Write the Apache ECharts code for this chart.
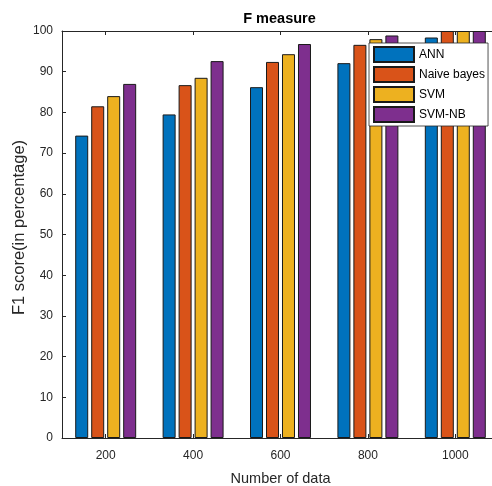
<!DOCTYPE html>
<html>
<head>
<meta charset="utf-8">
<script src="https://cdn.jsdelivr.net/npm/echarts@6/dist/echarts.min.js"></script>
<style>
  html, body { margin: 0; padding: 0; background: #fff; }
  #chart { width: 492px; height: 486px; }
</style>
</head>
<body>
<div id="chart"></div>
<script>
// Data sizes on the x axis
const categories = ['200', '400', '600', '800', '1000'];

// F1 score (%) for each classifier
const annScores = [74.3, 79.5, 86.2, 92.1, 98.4];
const naiveBayesScores = [81.5, 86.7, 92.4, 96.6, 100];
const svmScores = [84.0, 88.5, 94.3, 98.0, 100];
const svmNbScores = [87.0, 92.6, 96.8, 98.9, 100];

const seriesNames = ['ANN', 'Naive bayes', 'SVM', 'SVM-NB'];
const seriesColors = ['#0072BD', '#D95319', '#EDB120', '#7E2F8E'];
const seriesValues = [annScores, naiveBayesScores, svmScores, svmNbScores];

const font = "'Liberation Sans', Arial, Helvetica, sans-serif";
const axisColor = '#262626';

const chart = echarts.init(document.getElementById('chart'));

chart.setOption({
  animation: false,
  backgroundColor: '#ffffff',
  title: {
    text: 'F measure',
    left: 274.5,
    top: 6,
    textAlign: 'center',
    textStyle: { fontFamily: font, fontSize: 14.5, fontWeight: 'bold', color: '#000' }
  },
  legend: {
    data: seriesNames,
    orient: 'vertical',
    left: 369,
    top: 43,
    padding: [3, 3, 3, 4],
    icon: 'rect',
    itemWidth: 40,
    itemHeight: 15,
    itemGap: 3,
    backgroundColor: '#ffffff',
    borderColor: '#262626',
    borderWidth: 0.8,
    borderRadius: 0,
    textStyle: { fontFamily: font, fontSize: 12, color: '#000' }
  },
  // plot area runs past the right edge of the canvas
  grid: { left: 62, top: 31, width: 437, height: 407, containLabel: false, outerBoundsMode: 'none' },
  xAxis: [
    {
      type: 'category',
      data: categories,
      position: 'bottom',
      name: 'Number of data',
      nameLocation: 'middle',
      nameGap: 33,
      nameTextStyle: { fontFamily: font, fontSize: 14.5, color: axisColor },
      axisLine: { lineStyle: { color: axisColor, width: 1 } },
      axisTick: { show: true, inside: true, alignWithLabel: true, length: 4, lineStyle: { color: axisColor } },
      axisLabel: { fontFamily: font, fontSize: 12, color: axisColor, margin: 12 },
      splitLine: { show: false }
    },
    {
      type: 'category',
      data: categories,
      position: 'top',
      axisLine: { lineStyle: { color: axisColor, width: 1 } },
      axisTick: { show: true, inside: true, alignWithLabel: true, length: 4, lineStyle: { color: axisColor } },
      axisLabel: { show: false },
      splitLine: { show: false }
    }
  ],
  yAxis: {
    type: 'value',
    min: 0,
    max: 100,
    interval: 10,
    name: 'F1 score(in percentage)',
    nameLocation: 'middle',
    nameGap: 34,
    nameMoveOverlap: false,
    nameTextStyle: { fontFamily: font, fontSize: 16.5, color: axisColor, padding: [0, 0, 0, 14] },
    axisLine: { show: true, lineStyle: { color: axisColor, width: 1 } },
    axisTick: { show: true, inside: true, length: 4, lineStyle: { color: axisColor } },
    axisLabel: { fontFamily: font, fontSize: 12, color: axisColor, margin: 9 },
    splitLine: { show: false }
  },
  series: seriesNames.map((name, i) => ({
    name: name,
    type: 'bar',
    xAxisIndex: 0,
    data: seriesValues[i],
    barWidth: 13,
    barGap: '23%',
    itemStyle: { color: seriesColors[i], borderColor: '#1a1a1a', borderWidth: 1 }
  }))
});
</script>
</body>
</html>
